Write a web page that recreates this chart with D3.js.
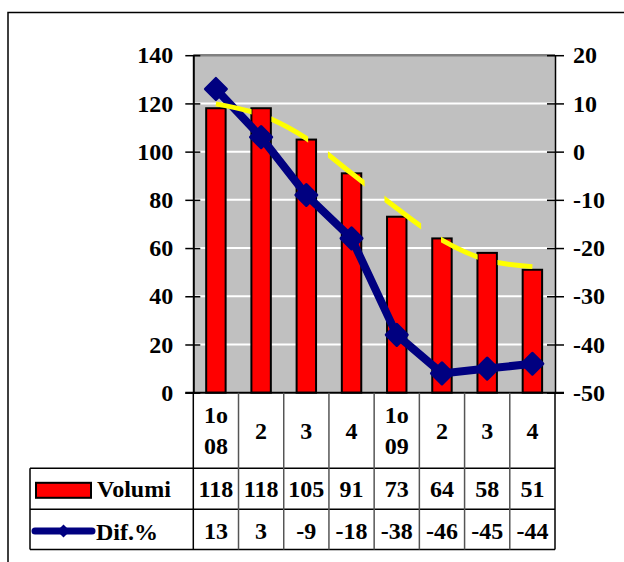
<!DOCTYPE html>
<html>
<head>
<meta charset="utf-8">
<script src="https://cdn.jsdelivr.net/npm/d3@7"></script>
<style>
  html, body { margin: 0; padding: 0; background: #fff; }
  svg { display: block; }
</style>
</head>
<body>
<svg id="chart" width="624" height="562"></svg>
<script>
// Quarterly volumes (bars, left axis) and % change (line, right axis)
const categories = [["1o", "08"], ["2"], ["3"], ["4"], ["1o", "09"], ["2"], ["3"], ["4"]];
const volumi = [118, 118, 105, 91, 73, 64, 58, 51];
const dif = [13, 3, -9, -18, -38, -46, -45, -44];
// Trend curve of the volumes, read at each quarter
const trend = [119.8, 115.2, 105.5, 91.0, 76.5, 63.3, 55.0, 52.3];
const leftTicks = [0, 20, 40, 60, 80, 100, 120, 140];
const rightTicks = [-50, -40, -30, -20, -10, 0, 10, 20];
const seriesNames = ["Volumi", "Dif.%"];

const FONT = "'Liberation Serif', 'DejaVu Serif', serif";
const FS = 24;

const svg = d3.select("#chart")
  .attr("font-family", FONT).attr("font-weight", "bold");

const plot = { left: 193.3, right: 555, top: 55.2, bottom: 392.7 };
const table = { left: 30, catBottom: 468.3, row1Bottom: 509.3, row2Bottom: 549.5 };

const txt = sel => sel.attr("font-family", FONT).attr("font-weight", "bold")
  .attr("font-size", FS).attr("fill", "#000");
const plain = d => String(d); // hyphen-minus, as in the table

// outer frame
svg.append("rect")
  .attr("x", 8).attr("y", 12.5).attr("width", 700).attr("height", 700)
  .attr("fill", "none").attr("stroke", "#000").attr("stroke-width", 1.5);

const idx = d3.range(categories.length);
const x = d3.scaleBand().domain(idx).range([plot.left, plot.right]).padding(0);
const bw = x.bandwidth();
const cx = i => x(i) + bw / 2;

const yL = d3.scaleLinear().domain([0, 140]).range([plot.bottom, plot.top]);
const yR = d3.scaleLinear().domain([-50, 20]).range([plot.bottom, plot.top]);

// plot background
svg.append("rect")
  .attr("x", plot.left).attr("y", plot.top)
  .attr("width", plot.right - plot.left).attr("height", plot.bottom - plot.top)
  .attr("fill", "#c0c0c0");

// gridlines
svg.append("g").selectAll("line")
  .data(leftTicks.filter(t => t > 0 && t < 140))
  .join("line")
  .attr("x1", plot.left).attr("x2", plot.right)
  .attr("y1", d => yL(d)).attr("y2", d => yL(d))
  .attr("stroke", "#fff").attr("stroke-width", 2);

// top border
svg.append("line")
  .attr("x1", plot.left).attr("x2", plot.right)
  .attr("y1", plot.top).attr("y2", plot.top)
  .attr("stroke", "#808080").attr("stroke-width", 2.5);

// left axis
const axL = d3.axisLeft(yL).tickValues(leftTicks).tickFormat(plain)
  .tickSizeInner(8).tickSizeOuter(0).tickPadding(12);
const gL = svg.append("g").attr("transform", `translate(${plot.left},0)`).call(axL);
gL.attr("font-family", FONT).attr("font-size", FS);
gL.select(".domain").attr("stroke", "#000").attr("stroke-width", 2);
gL.selectAll(".tick line").attr("stroke", "#000").attr("stroke-width", 1.5).attr("x2", -8).attr("x1", 7);
gL.selectAll(".tick text").call(txt).attr("x", -20);

// right axis
const axR = d3.axisRight(yR).tickValues(rightTicks).tickFormat(plain)
  .tickSizeInner(8).tickSizeOuter(0).tickPadding(10);
const gR = svg.append("g").attr("transform", `translate(${plot.right},0)`).call(axR);
gR.attr("font-family", FONT).attr("font-size", FS);
gR.select(".domain").attr("stroke", "#000").attr("stroke-width", 1.5);
gR.selectAll(".tick line").attr("stroke", "#000").attr("stroke-width", 1.5).attr("x1", -8).attr("x2", 9);
gR.selectAll(".tick text").call(txt).attr("x", 18);

// bars
const barW = bw * 0.43;
svg.append("g").selectAll("rect")
  .data(volumi)
  .join("rect")
  .attr("x", (d, i) => cx(i) - barW / 2)
  .attr("y", d => yL(d))
  .attr("width", barW)
  .attr("height", d => yL(0) - yL(d))
  .attr("fill", "#ff0000")
  .attr("stroke", "#000").attr("stroke-width", 2);

// bottom axis line at zero
svg.append("line")
  .attr("x1", plot.left - 8).attr("x2", plot.right + 9)
  .attr("y1", plot.bottom).attr("y2", plot.bottom)
  .attr("stroke", "#000").attr("stroke-width", 2);

// % change line with diamond markers
const navy = "#000080";
const lineR = d3.line().x((d, i) => cx(i)).y(d => yR(d));
svg.append("path")
  .attr("d", lineR(dif))
  .attr("fill", "none").attr("stroke", navy).attr("stroke-width", 8)
  .attr("stroke-linejoin", "round");
const diamond = (r) => `M0,${-r}L${r},0L0,${r}L${-r},0Z`;
svg.append("g").selectAll("path")
  .data(dif)
  .join("path")
  .attr("transform", (d, i) => `translate(${cx(i)},${yR(d)})`)
  .attr("d", diamond(10.5))
  .attr("fill", navy).attr("stroke", navy).attr("stroke-width", 3).attr("stroke-linejoin", "round");

// dashed trend curve (dashes laid out along x)
const period = bw * 1.25, dashLen = bw * 0.79;
const clip = svg.append("defs").append("clipPath").attr("id", "dashclip");
clip.selectAll("rect")
  .data(d3.range(0, (plot.right - plot.left) / period))
  .join("rect")
  .attr("x", k => cx(0) + k * period - 1)
  .attr("y", plot.top)
  .attr("width", dashLen + 1)
  .attr("height", plot.bottom - plot.top);
const lineT = d3.line().x((d, i) => cx(i)).y(d => yL(d)).curve(d3.curveMonotoneX);
svg.append("path")
  .attr("d", lineT(trend))
  .attr("clip-path", "url(#dashclip)")
  .attr("fill", "none").attr("stroke", "#ffff00").attr("stroke-width", 5);

// data table
const tg = svg.append("g");
const hl = (x1, x2, y) => tg.append("line").attr("x1", x1).attr("x2", x2).attr("y1", y).attr("y2", y)
  .attr("stroke", "#000").attr("stroke-width", 1.5);
hl(table.left, plot.right, table.catBottom);
hl(table.left, plot.right, table.row1Bottom);
hl(table.left, plot.right, table.row2Bottom);
tg.append("line").attr("x1", table.left).attr("x2", table.left)
  .attr("y1", table.catBottom).attr("y2", table.row2Bottom).attr("stroke", "#000").attr("stroke-width", 1.5);
tg.selectAll("line.v")
  .data(d3.range(categories.length + 1))
  .join("line").attr("class", "v")
  .attr("x1", i => x(0) + i * bw).attr("x2", i => x(0) + i * bw)
  .attr("y1", plot.bottom).attr("y2", table.row2Bottom)
  .attr("stroke", (i) => (i === 0 || i === categories.length) ? "#000" : "#555")
  .attr("stroke-width", 1.5);

// category labels
const catMid = (plot.bottom + table.catBottom) / 2;
tg.selectAll("text.cat")
  .data(categories)
  .join("text").attr("class", "cat")
  .call(txt)
  .attr("text-anchor", "middle")
  .each(function (lines, i) {
    const t = d3.select(this);
    lines.forEach((s, j) => {
      t.append("tspan")
        .attr("x", cx(i))
        .attr("y", catMid + 8 + (j - (lines.length - 1) / 2) * 30.4)
        .text(s);
    });
  });

// value rows
const row1Mid = (table.catBottom + table.row1Bottom) / 2;
const row2Mid = (table.row1Bottom + table.row2Bottom) / 2;
[[volumi, row1Mid + 7.8], [dif, row2Mid + 10]].forEach(([vals, base]) => {
  tg.append("g").selectAll("text")
    .data(vals)
    .join("text")
    .call(txt)
    .attr("x", (d, i) => cx(i))
    .attr("y", base)
    .attr("text-anchor", "middle")
    .text(plain);
});

// legend keys
tg.append("rect")
  .attr("x", 36).attr("y", row1Mid - 6).attr("width", 55).attr("height", 15)
  .attr("fill", "#ff0000").attr("stroke", "#000").attr("stroke-width", 2);
tg.append("text").call(txt).attr("x", 97).attr("y", row1Mid + 8.5).text(seriesNames[0]);
tg.append("line")
  .attr("x1", 35).attr("x2", 92).attr("y1", row2Mid + 1.5).attr("y2", row2Mid + 1.5)
  .attr("stroke", navy).attr("stroke-width", 7).attr("stroke-linecap", "round");
tg.append("path")
  .attr("transform", `translate(63.5,${row2Mid + 1.5})`)
  .attr("d", diamond(6.5)).attr("fill", navy);
tg.append("text").call(txt).attr("x", 96).attr("y", row2Mid + 10.5).text(seriesNames[1]);
</script>
</body>
</html>
